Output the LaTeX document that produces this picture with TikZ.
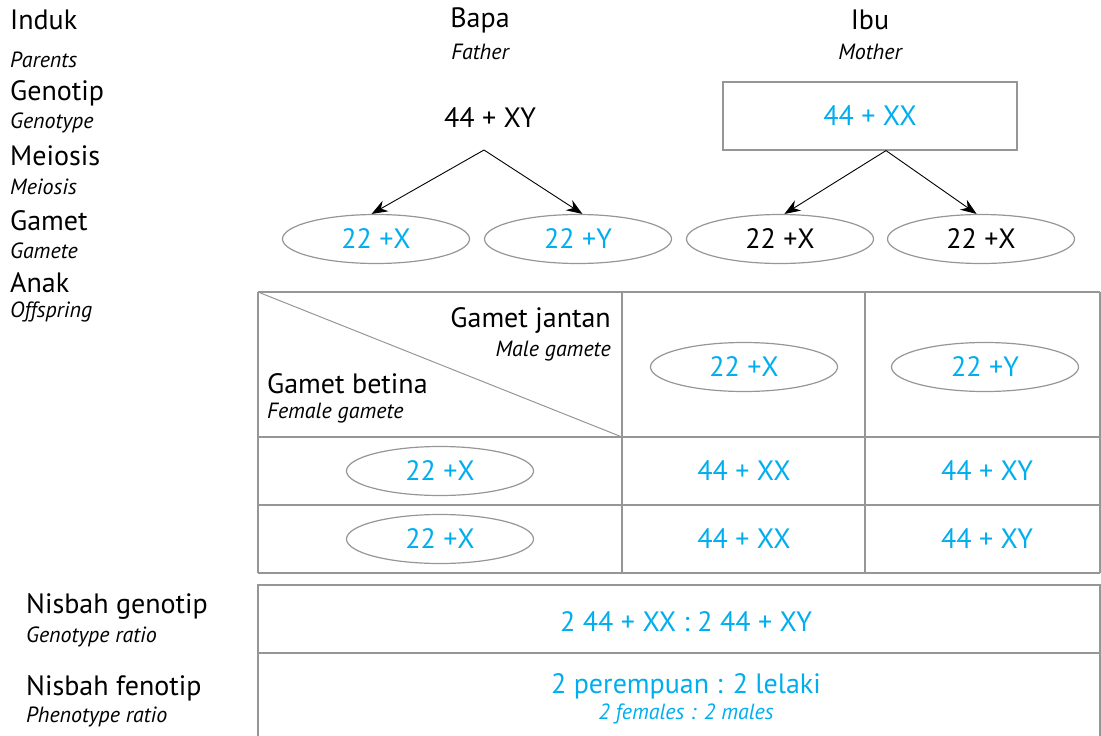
\documentclass[tikz,border=0pt]{standalone}
\usepackage{fontspec}
\setmainfont{PT Sans}
\usepackage{tikz}
\usetikzlibrary{positioning, arrows.meta, shapes.geometric}

\definecolor{cyanink}{RGB}{0,174,239}
\definecolor{rulegray}{RGB}{150,150,150}

\begin{document}
\begin{tikzpicture}[
			x=1pt, y=-1pt,
			big/.style={font=\fontsize{28}{31}\selectfont, inner sep=0pt},
			small/.style={font=\fontsize{22}{25}\selectfont\itshape, inner sep=0pt},
			lab/.style={anchor=west},
			gam/.style={ellipse, draw=rulegray, line width=1.2pt, minimum width=187pt, minimum height=49pt, inner sep=0pt, font=\fontsize{28}{31}\selectfont},
			grid/.style={draw=rulegray, line width=1.4pt},
			>={Stealth[length=16pt, width=12pt]}
			]
			\useasboundingbox (0,0) rectangle (1101,736);
			
			% Etichette a sinistra
			\node[big, lab] (induk) at (10,20) {Induk};
			\node[small, lab] (parents) at (10,60) {Parents};
			\node[big, lab] (genotip) at (10,93) {Genotip};
			\node[small, lab] (genotype) at (10,123) {Genotype};
			\node[big, lab] (meiosis) at (10,156) {Meiosis};
			\node[small, lab] (meiosisen) at (10,187) {Meiosis};
			\node[big, lab] (gamet) at (10,221) {Gamet};
			\node[small, lab] (gamete) at (10,251) {Gamete};
			\node[big, lab] (anak) at (10,283) {Anak};
			\node[small, lab] (offspring) at (10,312) {Offspring};
			
			% Genitori
			\node[big] (bapa) at (480,20) {Bapa};
			\node[small] (father) at (480,52) {Father};
			\node[big] (ibu) at (870,20) {Ibu};
			\node[small] (mother) at (870,52) {Mother};
			
			% Genotipi
			\node[big] (xy) at (490,118) {44 + XY};
			\node[big, text=cyanink, draw=rulegray, line width=1.2pt, minimum width=294pt, minimum height=68pt] (xx) at (870,116) {44 + XX};
			\coordinate (xysplit) at (484,150);
			\coordinate (xxsplit) at ([xshift=16pt]xx.south);
			
			% Gameti
			\node[gam, text=cyanink] (g1) at (376,239) {22 +X};
			\node[gam, text=cyanink] (g2) at (578,239) {22 +Y};
			\node[gam] (g3) at (780,239) {22 +X};
			\node[gam] (g4) at (981,239) {22 +X};
			\draw[->, line width=0.9pt] (xysplit) -- (g1.100);
			\draw[->, line width=0.9pt] (xysplit) -- (g2.80);
			\draw[->, line width=0.9pt] (xxsplit) -- (g3.80);
			\draw[->, line width=0.9pt] (xxsplit) -- (g4.100);
			
			% Tabella
			\draw[grid] (258,292) -- (1100,292);
			\draw[grid] (258,437) -- (1100,437);
			\draw[grid] (258,505) -- (1100,505);
			\draw[grid] (258,573) -- (1100,573);
			\foreach \x in {258, 622, 865, 1100}
				\draw[grid] (\x,292) -- (\x,573);
			\draw[draw=rulegray, line width=1pt] (258,292) -- (622,437);
			
			\node[big, anchor=east] (jantan) at (611,320) {Gamet jantan};
			\node[small, anchor=east] (male) at (611,351) {Male gamete};
			\node[big, lab] (betina) at (267,384) {Gamet betina};
			\node[small, lab] (female) at (267,413) {Female gamete};
			
			\node[gam, text=cyanink] (m1) at (744,367) {22 +X};
			\node[gam, text=cyanink] (m2) at (985,367) {22 +Y};
			\node[gam, text=cyanink] (f1) at (440,471) {22 +X};
			\node[gam, text=cyanink] (f2) at (440,539) {22 +X};
			
			\node[big, text=cyanink] (c11) at (744,471) {44 + XX};
			\node[big, text=cyanink] (c12) at (987,471) {44 + XY};
			\node[big, text=cyanink] (c21) at (744,539) {44 + XX};
			\node[big, text=cyanink] (c22) at (987,539) {44 + XY};
			
			% Nisbah
			\draw[grid] (258,736) -- (258,585) -- (1100,585) -- (1100,736);
			\draw[grid] (258,653) -- (1100,653);
			\node[big, lab] (nisgen) at (26,607) {Nisbah genotip};
			\node[small, lab] (genratio) at (26,637) {Genotype ratio};
			\node[big, lab] (nisfen) at (26,688) {Nisbah fenotip};
			\node[small, lab] (fenratio) at (26,717) {Phenotype ratio};
			\node[big, text=cyanink] (ratiogen) at (686,622) {2 44 + XX : 2 44 + XY};
			\node[big, text=cyanink] (ratiofen) at (686,686) {2 perempuan : 2 lelaki};
			\node[small, text=cyanink] (ratiofenen) at (686,714) {2 females : 2 males};
			
		\end{tikzpicture}
\end{document}
